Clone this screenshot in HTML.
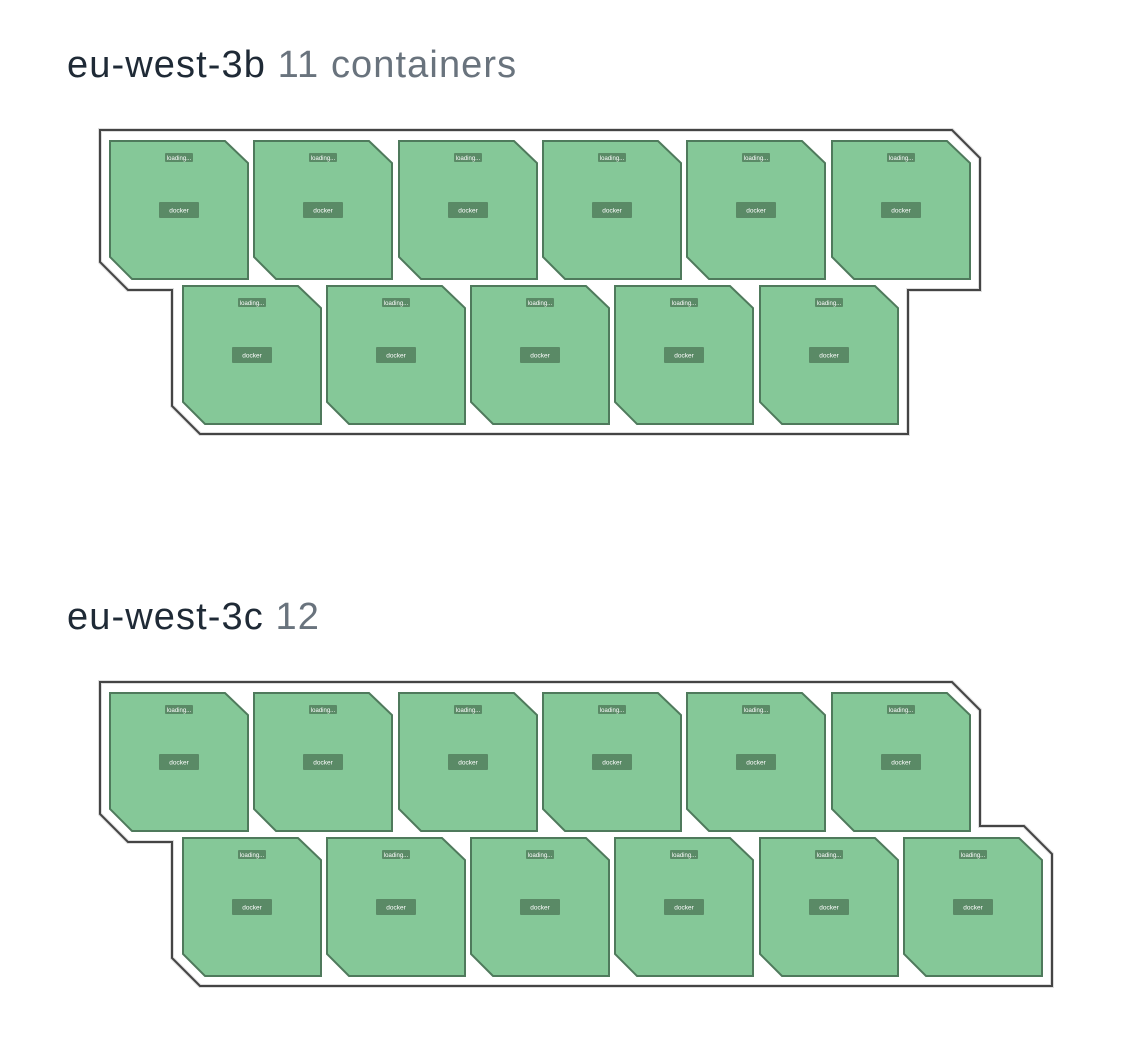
<!DOCTYPE html>
<html><head><meta charset="utf-8"><style>
html,body{margin:0;padding:0;background:#fff;width:1134px;height:1037px;overflow:hidden}
.h{position:absolute;left:67px;font-family:"Liberation Sans",sans-serif;font-size:38px;color:#1f2a36;letter-spacing:1.1px;margin:0;white-space:nowrap}
.h span{color:#69737d}
svg{position:absolute;left:0;top:0}
.t polygon{fill:#85c898;stroke:#4f7a5c;stroke-width:2}
.t rect{fill:#5a8a66}
.t text{fill:#fff;font-family:"Liberation Sans",sans-serif;text-anchor:middle}
</style></head><body>
<div class="h" style="top:44px">eu-west-3b <span>11 containers</span></div>
<div class="h" style="top:596px">eu-west-3c <span>12</span></div>
<svg width="1134" height="1037">
<g fill="none">
<path d="M100 130 H952 L980 158 V290 H908 V434 H200 L172 406 V290 H128 L100 262 Z" stroke="#ddd" stroke-width="4"/>
<path d="M100 130 H952 L980 158 V290 H908 V434 H200 L172 406 V290 H128 L100 262 Z" stroke="#444" stroke-width="2"/>
<path d="M100 682 H952 L980 710 V826 H1024 L1052 854 V986 H200 L172 958 V842 H128 L100 814 Z" stroke="#ddd" stroke-width="4"/>
<path d="M100 682 H952 L980 710 V826 H1024 L1052 854 V986 H200 L172 958 V842 H128 L100 814 Z" stroke="#444" stroke-width="2"/>
</g>
<g class="t" transform="translate(110,141)"><polygon points="0,0 115,0 138,22 138,138 22,138 0,116"/><rect x="55" y="12" width="28" height="9" rx="1"/><text x="69" y="19" font-size="6">loading...</text><rect x="49" y="61" width="40" height="16" rx="1"/><text x="69" y="71.5" font-size="6.5">docker</text></g>
<g class="t" transform="translate(254,141)"><polygon points="0,0 115,0 138,22 138,138 22,138 0,116"/><rect x="55" y="12" width="28" height="9" rx="1"/><text x="69" y="19" font-size="6">loading...</text><rect x="49" y="61" width="40" height="16" rx="1"/><text x="69" y="71.5" font-size="6.5">docker</text></g>
<g class="t" transform="translate(399,141)"><polygon points="0,0 115,0 138,22 138,138 22,138 0,116"/><rect x="55" y="12" width="28" height="9" rx="1"/><text x="69" y="19" font-size="6">loading...</text><rect x="49" y="61" width="40" height="16" rx="1"/><text x="69" y="71.5" font-size="6.5">docker</text></g>
<g class="t" transform="translate(543,141)"><polygon points="0,0 115,0 138,22 138,138 22,138 0,116"/><rect x="55" y="12" width="28" height="9" rx="1"/><text x="69" y="19" font-size="6">loading...</text><rect x="49" y="61" width="40" height="16" rx="1"/><text x="69" y="71.5" font-size="6.5">docker</text></g>
<g class="t" transform="translate(687,141)"><polygon points="0,0 115,0 138,22 138,138 22,138 0,116"/><rect x="55" y="12" width="28" height="9" rx="1"/><text x="69" y="19" font-size="6">loading...</text><rect x="49" y="61" width="40" height="16" rx="1"/><text x="69" y="71.5" font-size="6.5">docker</text></g>
<g class="t" transform="translate(832,141)"><polygon points="0,0 115,0 138,22 138,138 22,138 0,116"/><rect x="55" y="12" width="28" height="9" rx="1"/><text x="69" y="19" font-size="6">loading...</text><rect x="49" y="61" width="40" height="16" rx="1"/><text x="69" y="71.5" font-size="6.5">docker</text></g>
<g class="t" transform="translate(183,286)"><polygon points="0,0 115,0 138,22 138,138 22,138 0,116"/><rect x="55" y="12" width="28" height="9" rx="1"/><text x="69" y="19" font-size="6">loading...</text><rect x="49" y="61" width="40" height="16" rx="1"/><text x="69" y="71.5" font-size="6.5">docker</text></g>
<g class="t" transform="translate(327,286)"><polygon points="0,0 115,0 138,22 138,138 22,138 0,116"/><rect x="55" y="12" width="28" height="9" rx="1"/><text x="69" y="19" font-size="6">loading...</text><rect x="49" y="61" width="40" height="16" rx="1"/><text x="69" y="71.5" font-size="6.5">docker</text></g>
<g class="t" transform="translate(471,286)"><polygon points="0,0 115,0 138,22 138,138 22,138 0,116"/><rect x="55" y="12" width="28" height="9" rx="1"/><text x="69" y="19" font-size="6">loading...</text><rect x="49" y="61" width="40" height="16" rx="1"/><text x="69" y="71.5" font-size="6.5">docker</text></g>
<g class="t" transform="translate(615,286)"><polygon points="0,0 115,0 138,22 138,138 22,138 0,116"/><rect x="55" y="12" width="28" height="9" rx="1"/><text x="69" y="19" font-size="6">loading...</text><rect x="49" y="61" width="40" height="16" rx="1"/><text x="69" y="71.5" font-size="6.5">docker</text></g>
<g class="t" transform="translate(760,286)"><polygon points="0,0 115,0 138,22 138,138 22,138 0,116"/><rect x="55" y="12" width="28" height="9" rx="1"/><text x="69" y="19" font-size="6">loading...</text><rect x="49" y="61" width="40" height="16" rx="1"/><text x="69" y="71.5" font-size="6.5">docker</text></g>

<g class="t" transform="translate(110,693)"><polygon points="0,0 115,0 138,22 138,138 22,138 0,116"/><rect x="55" y="12" width="28" height="9" rx="1"/><text x="69" y="19" font-size="6">loading...</text><rect x="49" y="61" width="40" height="16" rx="1"/><text x="69" y="71.5" font-size="6.5">docker</text></g>
<g class="t" transform="translate(254,693)"><polygon points="0,0 115,0 138,22 138,138 22,138 0,116"/><rect x="55" y="12" width="28" height="9" rx="1"/><text x="69" y="19" font-size="6">loading...</text><rect x="49" y="61" width="40" height="16" rx="1"/><text x="69" y="71.5" font-size="6.5">docker</text></g>
<g class="t" transform="translate(399,693)"><polygon points="0,0 115,0 138,22 138,138 22,138 0,116"/><rect x="55" y="12" width="28" height="9" rx="1"/><text x="69" y="19" font-size="6">loading...</text><rect x="49" y="61" width="40" height="16" rx="1"/><text x="69" y="71.5" font-size="6.5">docker</text></g>
<g class="t" transform="translate(543,693)"><polygon points="0,0 115,0 138,22 138,138 22,138 0,116"/><rect x="55" y="12" width="28" height="9" rx="1"/><text x="69" y="19" font-size="6">loading...</text><rect x="49" y="61" width="40" height="16" rx="1"/><text x="69" y="71.5" font-size="6.5">docker</text></g>
<g class="t" transform="translate(687,693)"><polygon points="0,0 115,0 138,22 138,138 22,138 0,116"/><rect x="55" y="12" width="28" height="9" rx="1"/><text x="69" y="19" font-size="6">loading...</text><rect x="49" y="61" width="40" height="16" rx="1"/><text x="69" y="71.5" font-size="6.5">docker</text></g>
<g class="t" transform="translate(832,693)"><polygon points="0,0 115,0 138,22 138,138 22,138 0,116"/><rect x="55" y="12" width="28" height="9" rx="1"/><text x="69" y="19" font-size="6">loading...</text><rect x="49" y="61" width="40" height="16" rx="1"/><text x="69" y="71.5" font-size="6.5">docker</text></g>
<g class="t" transform="translate(183,838)"><polygon points="0,0 115,0 138,22 138,138 22,138 0,116"/><rect x="55" y="12" width="28" height="9" rx="1"/><text x="69" y="19" font-size="6">loading...</text><rect x="49" y="61" width="40" height="16" rx="1"/><text x="69" y="71.5" font-size="6.5">docker</text></g>
<g class="t" transform="translate(327,838)"><polygon points="0,0 115,0 138,22 138,138 22,138 0,116"/><rect x="55" y="12" width="28" height="9" rx="1"/><text x="69" y="19" font-size="6">loading...</text><rect x="49" y="61" width="40" height="16" rx="1"/><text x="69" y="71.5" font-size="6.5">docker</text></g>
<g class="t" transform="translate(471,838)"><polygon points="0,0 115,0 138,22 138,138 22,138 0,116"/><rect x="55" y="12" width="28" height="9" rx="1"/><text x="69" y="19" font-size="6">loading...</text><rect x="49" y="61" width="40" height="16" rx="1"/><text x="69" y="71.5" font-size="6.5">docker</text></g>
<g class="t" transform="translate(615,838)"><polygon points="0,0 115,0 138,22 138,138 22,138 0,116"/><rect x="55" y="12" width="28" height="9" rx="1"/><text x="69" y="19" font-size="6">loading...</text><rect x="49" y="61" width="40" height="16" rx="1"/><text x="69" y="71.5" font-size="6.5">docker</text></g>
<g class="t" transform="translate(760,838)"><polygon points="0,0 115,0 138,22 138,138 22,138 0,116"/><rect x="55" y="12" width="28" height="9" rx="1"/><text x="69" y="19" font-size="6">loading...</text><rect x="49" y="61" width="40" height="16" rx="1"/><text x="69" y="71.5" font-size="6.5">docker</text></g>
<g class="t" transform="translate(904,838)"><polygon points="0,0 115,0 138,22 138,138 22,138 0,116"/><rect x="55" y="12" width="28" height="9" rx="1"/><text x="69" y="19" font-size="6">loading...</text><rect x="49" y="61" width="40" height="16" rx="1"/><text x="69" y="71.5" font-size="6.5">docker</text></g>
</svg>
</body></html>
